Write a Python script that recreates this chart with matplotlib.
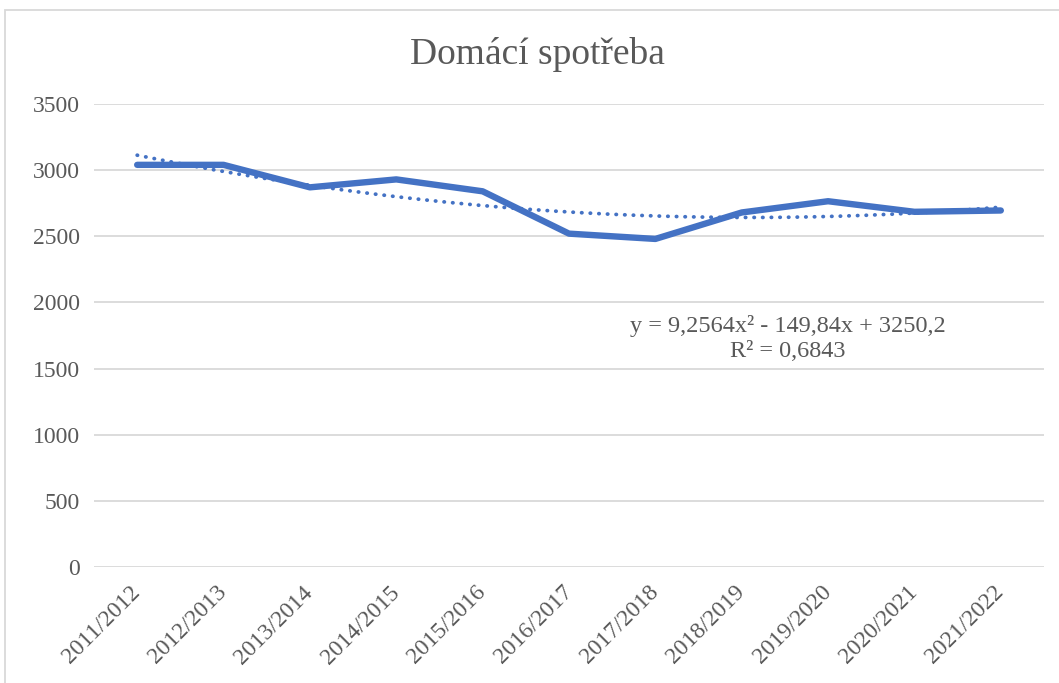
import numpy as np
import matplotlib
matplotlib.use("Agg")
import matplotlib.pyplot as plt
from matplotlib.patches import Rectangle

# data
seasons = ["2011/2012", "2012/2013", "2013/2014", "2014/2015", "2015/2016", "2016/2017",
           "2017/2018", "2018/2019", "2019/2020", "2020/2021", "2021/2022"]
spotreba = [3040, 3040, 2870, 2930, 2840, 2520, 2480, 2680, 2765, 2685, 2695]
yticks = [0, 500, 1000, 1500, 2000, 2500, 3000, 3500]
title = "Domácí spotřeba"
trend_text = "y = 9,2564x² - 149,84x + 3250,2\nR² = 0,6843"

blue = "#4472C4"
gray = "#595959"

plt.rcParams["font.family"] = ["Liberation Serif", "DejaVu Serif"]

fig = plt.figure(figsize=(10.59, 6.83), dpi=100)
fig.patches.append(Rectangle((5 / 1059, -0.1), 1.2, 1.1 - 10 / 683, transform=fig.transFigure,
                             fill=False, edgecolor="#D9D9D9", linewidth=1.3))
ax = fig.add_axes([94 / 1059, 1 - 567 / 683, 950 / 1059, 463 / 683])

x = np.arange(len(seasons))
ax.plot(x, spotreba, color=blue, linewidth=4.6, solid_capstyle="round", solid_joinstyle="round", zorder=3)

# polynomial trend (order 2), Excel numbers x from 1
xn = x + 1
coef = np.polyfit(xn, spotreba, 2)
xs = np.linspace(1, len(seasons), 200)
ax.plot(xs - 1, np.polyval(coef, xs), color=blue, linewidth=2.7, linestyle=(0, (0.1, 2.2)),
        dash_capstyle="round", zorder=4)

ax.set_xlim(-0.5, len(seasons) - 0.5)
ax.set_ylim(0, 3500)
ax.set_yticks(yticks)
ax.set_xticks(x)
ax.set_xticklabels(seasons, rotation=45, ha="right", va="center", rotation_mode="anchor")
ax.tick_params(axis="both", length=0, labelsize=17, labelcolor=gray)
ax.tick_params(axis="y", pad=10)
ax.tick_params(axis="x", pad=16)
ax.grid(axis="y", color="#D9D9D9", linewidth=1.3)
ax.set_axisbelow(True)
for s in ax.spines.values():
    s.set_visible(False)

ax.text(7.53, 1727, trend_text, ha="center", va="center", fontsize=17.5, color=gray,
        linespacing=1.25)

fig.text(537 / 1059, 1 - 55 / 683, title, ha="center", va="center", fontsize=27, color=gray)

fig.savefig("out.png", dpi=100)
